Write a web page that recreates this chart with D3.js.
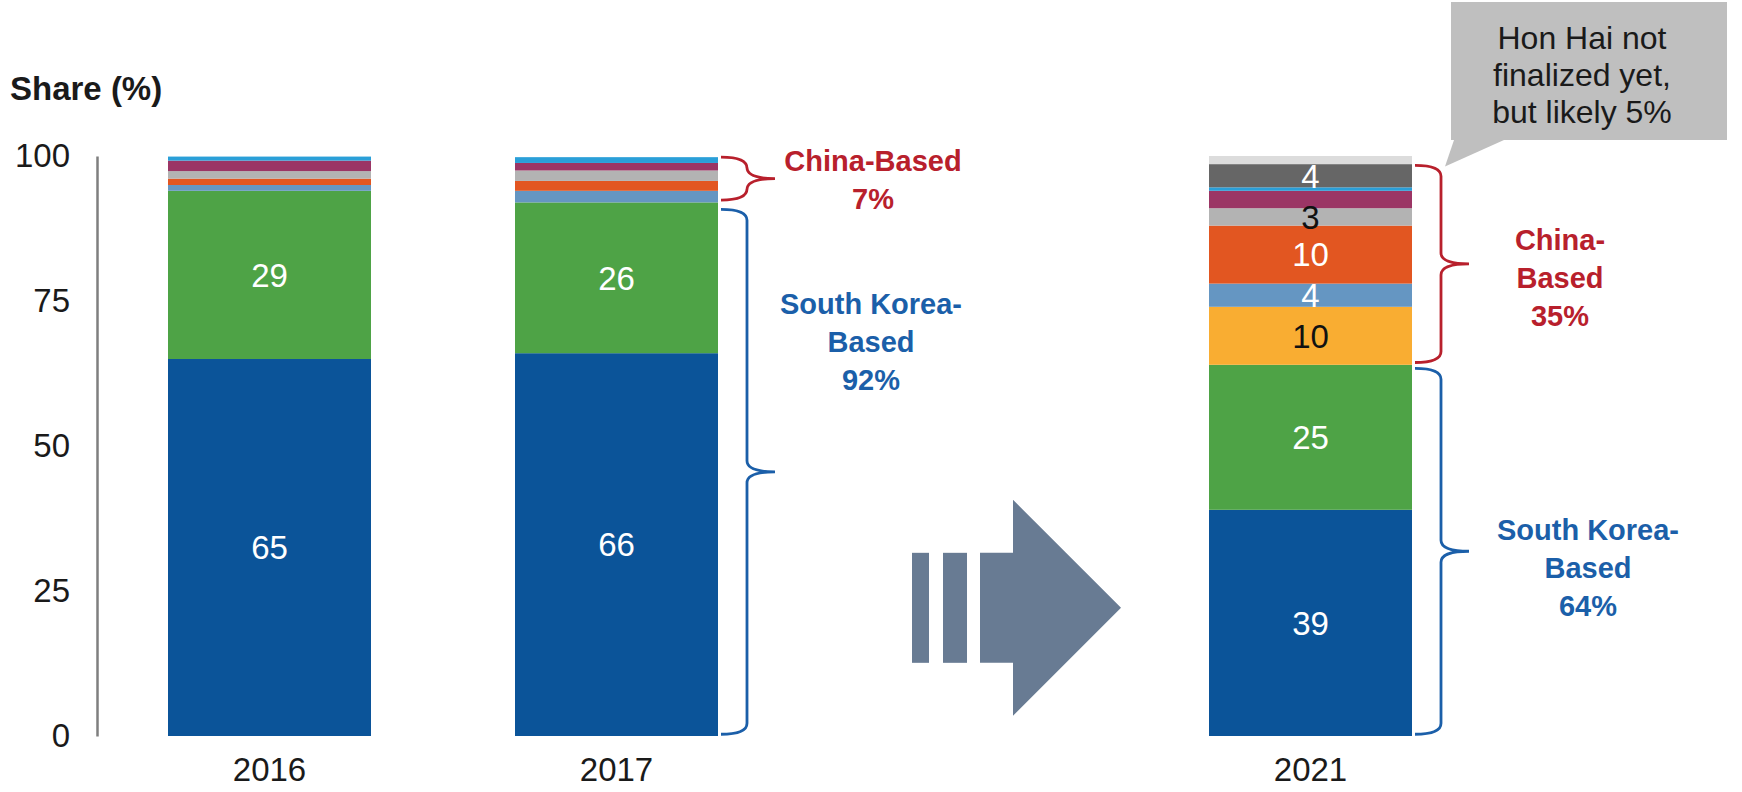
<!DOCTYPE html>
<html>
<head>
<meta charset="utf-8">
<script src="https://cdn.jsdelivr.net/npm/d3@7"></script>
<style>
  body { margin: 0; background: #fff; }
  svg text { font-family: "Liberation Sans", Arial, sans-serif; }
</style>
</head>
<body>
<div id="chart"></div>
<script>
// years on the x axis, with an empty slot for the arrow
var years = ["2016", "2017", "2021"];
var slots = ["2016", "2017", "gap", "2021"];
var yTicks = [0, 25, 50, 75, 100];

// stacked shares (%) bottom to top
var seriesKeys = ["koreaA", "koreaB", "chinaA", "chinaB", "chinaC", "chinaD", "chinaE", "chinaF", "chinaG", "other"];
var koreaA = [65, 66, 39];
var koreaB = [29, 26, 25];
var chinaA = [0, 0, 10];
var chinaB = [1, 2, 4];
var chinaC = [1.1, 1.7, 10];
var chinaD = [1.3, 1.8, 3];
var chinaE = [1.8, 1.3, 3];
var chinaF = [0.7, 1, 0.6];
var chinaG = [0, 0, 4];
var other = [0, 0, 1.4];

var colors = ["#0b5499", "#4ea346", "#f9ad32", "#6596c2", "#e25621", "#b3b3b3", "#9b3565", "#2a9fd8", "#666666", "#dcdcdc"];
var labelColors = ["#fff", "#fff", "#111", "#fff", "#fff", "#111", "#fff", "#fff", "#fff", "#111"];
// which segments carry a number
var labelled = {
  "2016": ["koreaA", "koreaB"],
  "2017": ["koreaA", "koreaB"],
  "2021": ["koreaA", "koreaB", "chinaA", "chinaB", "chinaC", "chinaD", "chinaG"]
};

var svgWidth = 1742;
var svgHeight = 792;
var red = "#b8202c";
var blue = "#1b5fa9";

var svg = d3.select("#chart")
  .append("svg")
  .attr("width", svgWidth)
  .attr("height", svgHeight);

var allSeries = [koreaA, koreaB, chinaA, chinaB, chinaC, chinaD, chinaE, chinaF, chinaG, other];
var rows = years.map(function(yr, i) {
  var r = { year: yr };
  seriesKeys.forEach(function(k, j) { r[k] = allSeries[j][i]; });
  return r;
});

var stacked = d3.stack().keys(seriesKeys)(rows);

var x = d3.scaleBand()
  .domain(slots)
  .range([168, 1412])
  .paddingInner(0.415)
  .paddingOuter(0);

var y = d3.scaleLinear()
  .domain([0, 100])
  .range([736, 156]);

// y axis: plain line with labels
var leftAxis = d3.axisLeft(y).tickValues(yTicks).tickSize(0).tickPadding(27);
var yg = svg.append("g")
  .attr("transform", "translate(97,0)")
  .call(leftAxis);
yg.select(".domain").attr("stroke", "#7f7f7f").attr("stroke-width", 2.5);
yg.selectAll("text").attr("font-size", 33).attr("fill", "#1a1a1a")
  .style("font-family", "'Liberation Sans', Arial, sans-serif");

svg.append("text")
  .attr("x", 10)
  .attr("y", 100)
  .attr("font-size", 33)
  .attr("font-weight", "bold")
  .attr("fill", "#1a1a1a")
  .text("Share (%)");

// bars
var layers = svg.selectAll("g.layer")
  .data(stacked)
  .enter()
  .append("g")
  .attr("class", "layer")
  .attr("fill", function(d, i) { return colors[i]; });

layers.selectAll("rect")
  .data(function(d) { return d; })
  .enter()
  .append("rect")
  .attr("x", function(d) { return x(d.data.year); })
  .attr("y", function(d) { return y(d[1]); })
  .attr("width", x.bandwidth())
  .attr("height", function(d) { return y(d[0]) - y(d[1]); });

// numbers inside segments
stacked.forEach(function(layer, i) {
  layer.forEach(function(d) {
    if (labelled[d.data.year].indexOf(layer.key) < 0) return;
    svg.append("text")
      .attr("x", x(d.data.year) + x.bandwidth() / 2)
      .attr("y", y((d[0] + d[1]) / 2))
      .attr("dy", "0.36em")
      .attr("text-anchor", "middle")
      .attr("font-size", 33)
      .attr("fill", labelColors[i])
      .text(Math.round(d[1] - d[0]));
  });
});

// category labels
years.forEach(function(yr) {
  svg.append("text")
    .attr("x", x(yr) + x.bandwidth() / 2)
    .attr("y", 781)
    .attr("text-anchor", "middle")
    .attr("font-size", 33)
    .attr("fill", "#1a1a1a")
    .text(yr);
});

// curly brackets with their notes
var brackets = [
  { year: "2017", from: 92.4, to: 99.8, color: red, lines: ["China-Based", "7%"], at: 96, dx: 155 },
  { year: "2017", from: 0.3, to: 90.8, color: blue, lines: ["South Korea-", "Based", "92%"], at: 68, dx: 153 },
  { year: "2021", from: 64.4, to: 98.4, color: red, lines: ["China-", "Based", "35%"], at: 79, dx: 148 },
  { year: "2021", from: 0.3, to: 63.4, color: blue, lines: ["South Korea-", "Based", "64%"], at: 29, dx: 176 }
];

brackets.forEach(function(b) {
  var right = x(b.year) + x.bandwidth();
  var x0 = right + 3, xm = right + 29, xt = right + 57;
  var yt = y(b.to), yb = y(b.from), ym = (yt + yb) / 2, r = 11;
  var p = d3.path();
  p.moveTo(x0, yt);
  p.quadraticCurveTo(xm, yt, xm, yt + r);
  p.lineTo(xm, ym - r);
  p.quadraticCurveTo(xm, ym, xt, ym);
  p.moveTo(xt, ym);
  p.quadraticCurveTo(xm, ym, xm, ym + r);
  p.lineTo(xm, yb - r);
  p.quadraticCurveTo(xm, yb, x0, yb);
  svg.append("path")
    .attr("d", p.toString())
    .attr("fill", "none")
    .attr("stroke", b.color)
    .attr("stroke-width", 2.8);

  var lh = 38;
  var y0 = y(b.at) - (b.lines.length - 1) * lh / 2;
  b.lines.forEach(function(t, k) {
    svg.append("text")
      .attr("x", right + b.dx)
      .attr("y", y0 + k * lh)
      .attr("dy", "0.36em")
      .attr("text-anchor", "middle")
      .attr("font-size", 29)
      .attr("font-weight", "bold")
      .attr("fill", b.color)
      .text(t);
  });
});

// arrow between 2017 and 2021
var ax = x("gap") + 50;
var am = y(22.1);
var arrow = svg.append("g").attr("fill", "#687b93");
arrow.append("rect").attr("x", ax).attr("y", am - 55).attr("width", 17).attr("height", 110);
arrow.append("rect").attr("x", ax + 31).attr("y", am - 55).attr("width", 24).attr("height", 110);
arrow.append("polygon")
  .attr("points", [
    [ax + 68, am - 55], [ax + 101, am - 55], [ax + 101, am - 108],
    [ax + 209, am], [ax + 101, am + 108], [ax + 101, am + 55], [ax + 68, am + 55]
  ].join(" "));

// callout box
var cr = x("2021") + x.bandwidth();
var call = svg.append("g");
call.append("polygon")
  .attr("points", [[cr + 42, 140], [cr + 92, 140], [cr + 33, y(98.2)]].join(" "))
  .attr("fill", "#bfbfbf");
call.append("rect")
  .attr("x", cr + 39)
  .attr("y", 2)
  .attr("width", 276)
  .attr("height", 138)
  .attr("fill", "#bfbfbf");
["Hon Hai not", "finalized yet,", "but likely 5%"].forEach(function(t, k) {
  call.append("text")
    .attr("x", cr + 170)
    .attr("y", 37 + k * 37)
    .attr("dy", "0.36em")
    .attr("text-anchor", "middle")
    .attr("font-size", 32)
    .attr("fill", "#1a1a1a")
    .text(t);
});
</script>
</body>
</html>
